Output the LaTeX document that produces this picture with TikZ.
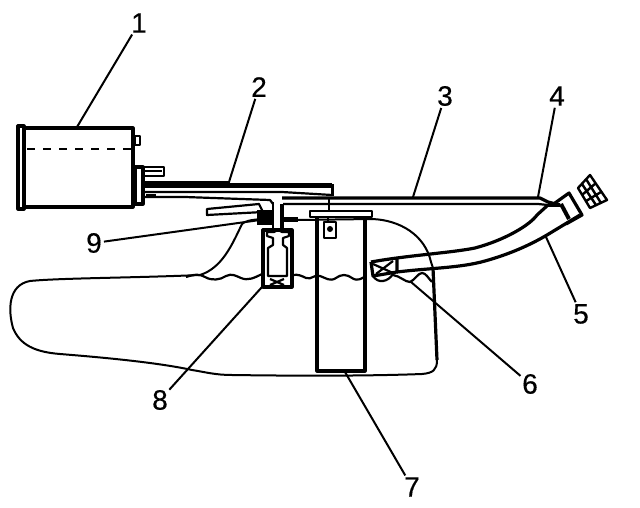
\documentclass[tikz,border=0pt]{standalone}
\usepackage{fontspec}
\newfontfamily\numfont[FakeBold=0.4]{Liberation Sans}
\tikzset{
  thin line/.style={line width=2pt,black},
  med line/.style={line width=2.2pt,black},
  thick line/.style={line width=3.2pt,black},
  leader/.style={line width=2pt,black,shorten <=2pt},
  num/.style={font=\numfont\fontsize{28}{28}\selectfont,inner sep=0pt,text=black},
}
\begin{document}
\begin{tikzpicture}[x=1pt,y=-1pt,line join=round]
\useasboundingbox (0,0) rectangle (640,508);
% canister
\draw[thick line] (24,128) rectangle (133,207);
\draw[thick line] (18,126) rectangle (24,209);
\draw[line width=2.4pt,dash pattern=on 8pt off 8pt] (27,149) -- (131,149);
\draw[med line] (135,136) rectangle (140,145);
\draw[thick line] (135,167) rectangle (143,204);
\draw[med line] (135,167) -- (164,167) -- (164,176) -- (145,176) (145,171) -- (162,171);
% hoses
\draw[line width=7pt] (145,184) -- (230,184);
\draw[line width=5pt] (230,185) -- (332,185);
\draw[line width=3pt] (332,184) -- (332,196);
\draw[med line] (145,192) -- (282,192) -- (332,195);
\draw[med line] (145,197) -- (185,197) -- (270,200) -- (273,204);
\draw[thick line] (146,196) -- (156,196);
% line 3
\draw[thick line] (282,198) -- (540,198) -- (548,202) -- (560,205);
\draw[med line] (283,204) -- (538,204) -- (548,205);
% tube down into module
\draw[med line] (273,202) -- (273,231);
\draw[thick line] (282,204) -- (282,229);
\fill (283,217) rectangle (298,222);
\draw[med line] (207,209) -- (259,204) -- (263,212) -- (207,215) -- cycle;
\fill (257,210) rectangle (273,225);
% tank
\draw[thin line] (262,219) .. controls (250,220) and (245,221) .. (242,224)
  .. controls (232,245) and (222,268) .. (200,275)
  .. controls (130,278) and (60,278) .. (30,281)
  .. controls (8,285) and (8,310) .. (13,328)
  .. controls (20,345) and (35,352) .. (60,354)
  .. controls (110,358) and (160,363) .. (192,370)
  .. controls (205,372) and (215,375) .. (232,375)
  .. controls (300,376) and (370,376) .. (422,374)
  .. controls (433,373) and (437,370) .. (437,360);
\draw[thick line] (437,360) -- (433,268);
\draw[thin line] (433,268) -- (431,262) .. controls (425,235) and (400,220) .. (372,219);
\draw[thin line] (372,219) -- (298,220);
% liquid
\draw[med line] (186,277) .. controls (195,274) and (200,274) .. (205,277) .. controls (212,281) and (220,280) .. (226,276)
 .. controls (232,273) and (236,276) .. (241,278) .. controls (248,281) and (254,278) .. (262,274);
\draw[med line] (293,275) .. controls (298,274) and (302,276) .. (306,278) .. controls (312,280) and (314,274) .. (320,276)
 .. controls (326,278) and (330,282) .. (336,278) .. controls (342,274) and (346,274) .. (352,278) .. controls (358,282) and (362,278) .. (366,276);
\draw[med line] (393,275) .. controls (400,276) and (405,282) .. (410,282) .. controls (415,280) and (418,273) .. (422,273) .. controls (426,273) and (428,278) .. (432,282);
% pump
\draw[med line] (310,211) rectangle (372,217);
\draw[thick line] (317,218) -- (317,371) -- (365,371) -- (365,218);
\draw[med line] (324,222) rectangle (336,238);
\fill (330,229) circle (3pt);
\draw[med line] (328,218) -- (328,222);
\draw[med line] (329,198) -- (329,211);
% module 8
\draw[thick line] (263,287) -- (263,230) -- (292,230) -- (292,287) -- cycle;
\draw[med line] (268,276) -- (268,248) -- (273,245) -- (273,238) -- (267,236) -- (267,232) -- (274,232) -- (278,230) -- (282,232) -- (289,232) -- (289,236) -- (283,238) -- (283,245) -- (287,248) -- (287,276) -- cycle;
\draw[med line] (270,279) -- (284,285) (284,279) -- (270,285);
% filler tube
\draw[thick line] (371,262) .. controls (410,255) and (450,253) .. (475,248)
 .. controls (505,240) and (530,225) .. (537,215) -- (548,205);
\draw[thick line] (397,272) .. controls (430,268) and (460,268) .. (485,261)
 .. controls (510,254) and (530,245) .. (547,235) -- (580,215);
\draw[thick line] (397,258) -- (397,272) -- (373,276) -- (371,262);
\draw[med line] (373,264) -- (393,273) (393,261) -- (376,274);
\draw[med line] (373,276) .. controls (378,284) and (388,282) .. (393,274);
% cap
\draw[thick line] (555,203) -- (569,193) -- (582,215) -- (566,224);
\draw[line width=4pt] (561,204) -- (569,219);
\draw[thick line] (560,205) -- (548,205);
\draw[line width=2.4pt]
  (578,188) -- (590,175) -- (607,200) -- (590,208) -- cycle
  (582,195) -- (596,183) (586,201) -- (601,192)
  (582,184) -- (596,205) (586,179) -- (601,203);
% labels
\node[num] (n1) at (139,23) {1};
\node[num] (n2) at (259,87) {2};
\node[num] (n3) at (445,96) {3};
\node[num] (n4) at (557,96) {4};
\node[num] (n5) at (581,314) {5};
\node[num] (n6) at (530,384) {6};
\node[num] (n7) at (412,487) {7};
\node[num] (n8) at (160,400) {8};
\node[num] (n9) at (94,243) {9};
\coordinate (t1) at (77,127);
\coordinate (t2) at (229,182);
\coordinate (t3) at (413,197);
\coordinate (t4) at (538,197);
\coordinate (t5) at (546,237);
\coordinate (t6) at (411,282);
\coordinate (t7) at (345,372);
\coordinate (t8) at (262,287);
\coordinate (t9) at (260,220);
\draw[leader] (n1) -- (t1);
\draw[leader] (n2) -- (t2);
\draw[leader] (n3) -- (t3);
\draw[leader] (n4) -- (t4);
\draw[leader] (n5) -- (t5);
\draw[leader] (n6) -- (t6);
\draw[leader] (n7) -- (t7);
\draw[leader] (n8) -- (t8);
\draw[leader] (n9) -- (t9);
\end{tikzpicture}
\end{document}
